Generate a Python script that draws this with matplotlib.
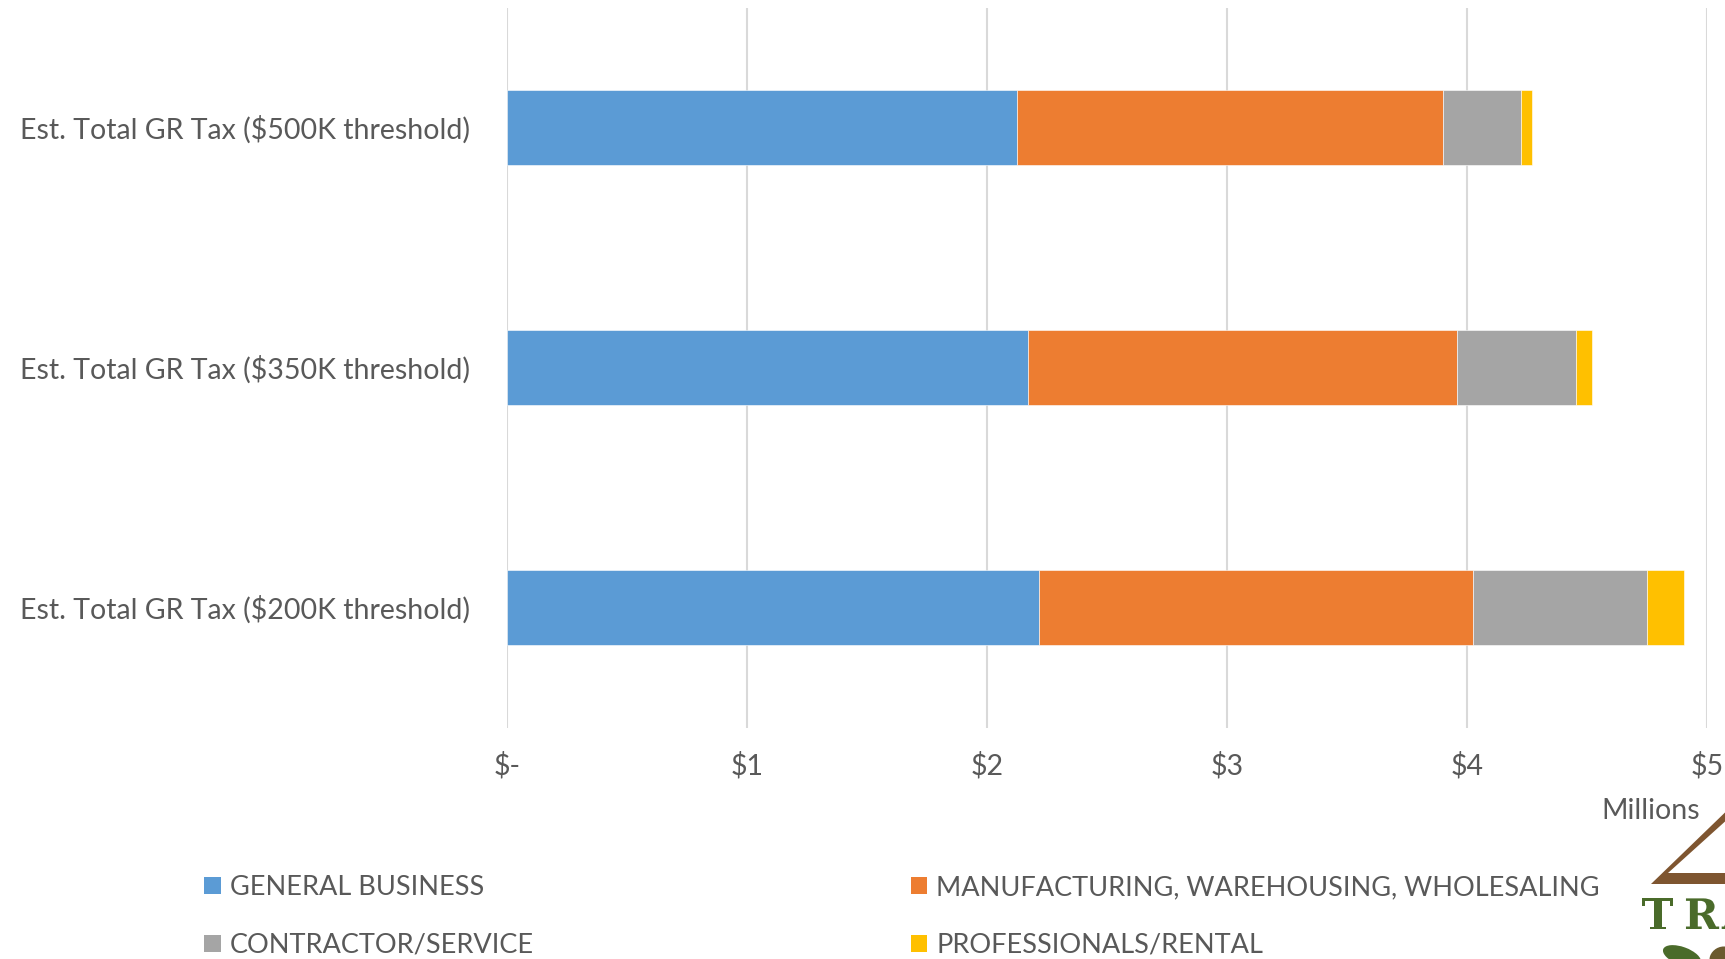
import matplotlib
matplotlib.use("Agg")
import matplotlib.pyplot as plt
from matplotlib.patches import Patch, Polygon, Ellipse, PathPatch
from matplotlib.textpath import TextPath
from matplotlib.font_manager import FontProperties
from matplotlib.transforms import Affine2D

# ---- data (millions of dollars) ----
categories = ["Est. Total GR Tax ($200K threshold)",
              "Est. Total GR Tax ($350K threshold)",
              "Est. Total GR Tax ($500K threshold)"]
general_business = [2.218, 2.171, 2.126]
manufacturing = [1.807, 1.789, 1.775]
contractor_service = [0.725, 0.494, 0.324]
professionals_rental = [0.155, 0.067, 0.046]
series_names = ["GENERAL BUSINESS", "MANUFACTURING, WAREHOUSING, WHOLESALING",
                "CONTRACTOR/SERVICE", "PROFESSIONALS/RENTAL"]
tick_values = [0, 1, 2, 3, 4, 5]
tick_labels = ["$-", "$1", "$2", "$3", "$4", "$5"]

colors = ["#5B9BD5", "#ED7D31", "#A5A5A5", "#FFC000"]
text_color = "#595959"
FONT = "Lato"
FS = 20.5
LFS = 19.5

W, H = 1725, 959
fig = plt.figure(figsize=(W / 100, H / 100), dpi=100)
fig.patch.set_facecolor("white")

left, right = 507 / W, 1707 / W
top, bottom = 1 - 7.5 / H, 1 - 727.5 / H
ax = fig.add_axes([left, bottom, right - left, top - bottom])

y = list(range(len(categories)))
series = [general_business, manufacturing, contractor_service, professionals_rental]
lefts = [0.0] * len(categories)
handles = []
for vals, name, c in zip(series, series_names, colors):
    ax.barh(y, vals, left=lefts, height=0.3125, color=c, edgecolor="white",
            linewidth=0.4, label=name, zorder=3)
    lefts = [a + b for a, b in zip(lefts, vals)]
    handles.append(Patch(facecolor=c, edgecolor="none", label=name))

ax.set_xlim(0, 5)
ax.set_ylim(-0.5, 2.5)
ax.set_xticks(tick_values)
ax.set_xticklabels(tick_labels, fontsize=FS, color=text_color, family=FONT)
ax.set_yticks(y)
ax.set_yticklabels(categories, fontsize=FS, color=text_color, family=FONT)
ax.tick_params(axis="both", length=0)
ax.tick_params(axis="x", pad=18)
ax.tick_params(axis="y", pad=27)
for s in ax.spines.values():
    s.set_visible(False)
ax.grid(axis="x", color="#D9D9D9", linewidth=1.5, zorder=0)
ax.set_axisbelow(True)

fig.text(1700 / W, 1 - 811 / H, "Millions", ha="right", va="center",
         fontsize=FS, color=text_color, family=FONT)

# legend: column-major order -> [GB, CS] then [MFG, PR]
order = [0, 2, 1, 3]
leg = fig.legend([handles[i] for i in order], [series_names[i] for i in order],
                 ncol=2, loc="upper left", bbox_to_anchor=(180 / W, 1 - 851 / H),
                 frameon=False, handlelength=0.6, handleheight=0.6,
                 handletextpad=0.35, columnspacing=13.9, labelspacing=1.2,
                 prop={"family": FONT, "size": LFS})
for t in leg.get_texts():
    t.set_color(text_color)

# ---- partial logo at bottom-right corner (graphic) ----
ov = fig.add_axes([0, 0, 1, 1], zorder=5)
ov.set_xlim(0, W)
ov.set_ylim(H, 0)
ov.axis("off")
ov.patch.set_alpha(0)
brown = "#7E5530"
green = "#4A6B2A"
ov.add_patch(Polygon([(1651, 884), (1740, 798), (1740, 808), (1668, 873),
                      (1740, 873), (1740, 884)], closed=True,
                     facecolor=brown, edgecolor="none"))
fp = FontProperties(family="DejaVu Serif", weight="bold")
for ch, xx in zip(["T", "R", "A"], [1642, 1684, 1722]):
    tp = TextPath((0, 0), ch, size=42, prop=fp)
    tr = Affine2D().scale(1, -1).translate(xx, 929)
    ov.add_patch(PathPatch(tr.transform_path(tp), facecolor=green, edgecolor="none"))
ov.add_patch(Ellipse((1682, 956), 40, 18, angle=20, facecolor=green, edgecolor="none"))
ov.add_patch(Ellipse((1722, 958), 26, 22, angle=-30, facecolor="#6B5A2E", edgecolor="none"))

fig.savefig("out.png", dpi=100, facecolor="white")
